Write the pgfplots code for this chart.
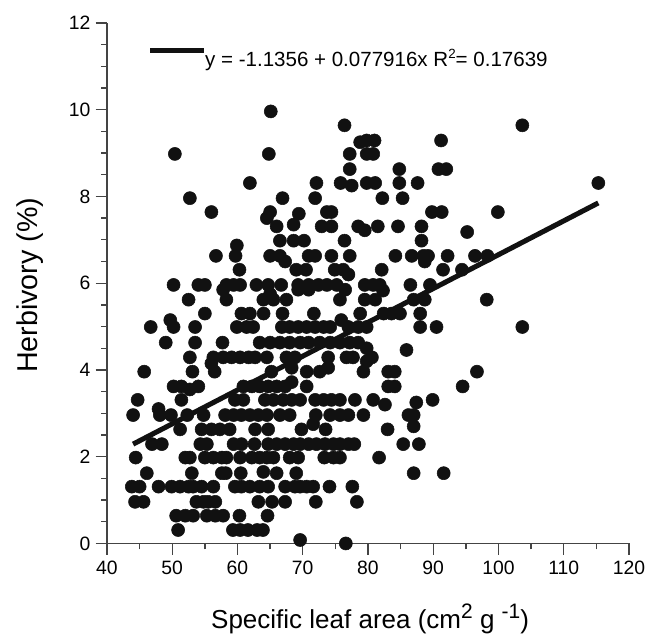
\documentclass[border=0pt]{standalone}
\usepackage{pgfplots}
\pgfplotsset{compat=1.18}
\usepackage{fontspec}
\setmainfont{Liberation Sans}
\definecolor{pt}{HTML}{111111}
\definecolor{ax}{HTML}{444444}
\newcommand{\sups}[1]{\raisebox{8pt}{\fontsize{15.7}{17}\selectfont #1}}
\begin{document}
\begin{tikzpicture}
\path[use as bounding box] (0,0) rectangle (492.75pt,475.5pt);
\begin{axis}[
  at={(80.25pt,67.9pt)},anchor=south west,
  scale only axis,width=391.5pt,height=390.4pt,
  xmin=40,xmax=120,ymin=0,ymax=12,
  axis lines=left,axis line style={ax,line width=1pt,-},
  clip=false,
  xtick={40,50,...,120},ytick={0,2,...,12},
  minor x tick num=1,minor y tick num=3,
  tick align=outside,tick pos=left,
  major tick length=8.5pt,minor tick length=4.5pt,
  every tick/.style={ax,line width=1pt},
  tick label style={font=\fontsize{14.5}{17}\selectfont,black},
  /pgf/number format/assume math mode=true,
  xlabel={Specific leaf area (cm\sups{2} g \sups{-1})},
  ylabel={Herbivory (\%)},
  xlabel style={font=\fontsize{19.5}{22}\selectfont,at={(axis description cs:0.504,0)},anchor=base,yshift=-64pt},
  ylabel style={font=\fontsize{21.5}{24}\selectfont,at={(axis description cs:0,0.496)},anchor=center,yshift=58pt},
  xticklabel style={anchor=base,yshift=-15pt},
  yticklabel style={xshift=-0.5pt},
]
\addplot[only marks,mark=*,mark size=4.9pt,pt,mark options={draw=none,fill=pt}] coordinates {
(76.6,0)(69.6,0.08)
(50.9,0.31)(59.3,0.31)(60.4,0.31)(61.6,0.31)(63,0.31)(63.9,0.31)
(50.6,0.64)(52,0.64)(53.2,0.64)(55.3,0.64)(56.6,0.64)(57.8,0.64)(60.3,0.64)(64.6,0.64)
(44.3,0.96)(45.6,0.96)(53.7,0.96)(54.8,0.96)(55.5,0.96)(56.6,0.96)(63.2,0.96)(65.3,0.96)(67.3,0.96)(72,0.96)(78.3,0.96)
(43.8,1.31)(45,1.31)(47.9,1.31)(49.9,1.31)(51.2,1.31)(52.5,1.31)(53.2,1.31)(54.5,1.31)(56.3,1.31)(59.6,1.31)(60.6,1.31)(61.9,1.31)(63.4,1.31)(64.7,1.31)(67.3,1.31)(68.8,1.31)(69.6,1.31)(70.6,1.31)(71.6,1.31)(74.1,1.31)(77.6,1.31)
(46.1,1.62)(53,1.62)(57.6,1.62)(58.2,1.62)(60.5,1.62)(63.96,1.65)(66,1.62)(69,1.62)(87,1.62)(91.6,1.62)
(44.4,1.98)(52,1.98)(52.7,1.98)(55,1.98)(56.3,1.98)(57.6,1.98)(58.3,1.98)(60.4,1.98)(62.2,1.98)(63.4,1.98)(64.5,1.98)(65.5,1.98)(68,1.98)(69.3,1.98)(73.3,1.98)(74.7,1.98)(75.7,1.98)(81.7,1.98)
(46.9,2.29)(48.4,2.29)(54.3,2.29)(55.3,2.29)(59.4,2.29)(60.6,2.29)(62.6,2.29)(64.7,2.29)(66,2.29)(67.3,2.29)(68.6,2.29)(69.6,2.29)(70.9,2.29)(72.1,2.29)(73.4,2.29)(74.7,2.29)(75.7,2.29)(77,2.29)(77.9,2.29)(85.4,2.29)(87.8,2.29)
(51.2,2.63)(54.5,2.63)(56,2.63)(57.3,2.63)(58.8,2.63)(62.7,2.63)(64.7,2.63)(69.8,2.63)(71.6,2.75)(73.5,2.63)(83,2.63)(87,2.7)
(44,2.96)(48.1,2.96)(47.9,3.1)(49.8,2.96)(52.3,2.96)(54.8,2.96)(58.1,2.96)(59.4,2.96)(60.6,2.96)(61.9,2.96)(63.2,2.96)(64.5,2.96)(66.5,2.96)(68,2.96)(72,2.96)(74.2,2.96)(75.7,2.96)(77,2.96)(79.3,2.96)(86.2,2.96)(87,2.96)
(44.7,3.31)(51.4,3.31)(59.6,3.31)(60.9,3.31)(64.2,3.31)(65.5,3.31)(67,3.31)(68.3,3.31)(69.6,3.31)(71.9,3.31)(73.2,3.31)(74.4,3.31)(75.7,3.31)(78,3.31)(80.8,3.31)(82.6,3.2)(87.4,3.25)(89.9,3.31)
(50.2,3.62)(51.4,3.62)(52.7,3.55)(54,3.62)(60.9,3.62)(62.2,3.62)(63.4,3.62)(64.7,3.62)(66,3.62)(67.3,3.62)(68.3,3.72)(70.6,3.62)(83.1,3.62)(84.1,3.62)(94.5,3.62)
(45.7,3.96)(53.1,3.96)(56.5,3.96)(65.2,3.96)(68.3,4.05)(70.6,3.96)(72.6,3.96)(73.9,4.05)(79.3,3.96)(83.1,3.96)(84.1,3.96)(96.7,3.96)
(52.7,4.29)(56.3,4.29)(57.8,4.29)(59.1,4.29)(60.4,4.29)(61.7,4.29)(62.7,4.29)(64.5,4.29)(67.5,4.29)(68.8,4.29)(73.9,4.29)(76.7,4.29)(77.7,4.29)(79.8,4.2)(80.6,4.29)(56,4.15)
(49,4.63)(53.5,4.63)(57.7,4.63)(63.4,4.63)(65,4.63)(66.5,4.63)(68,4.63)(69.6,4.63)(70.9,4.63)(72.6,4.63)(74.2,4.63)(75.7,4.63)(77.2,4.63)(78.5,4.63)(79.8,4.5)(85.9,4.46)
(46.7,4.99)(50.2,4.99)(53.5,4.99)(59.9,4.99)(61.4,4.99)(62.4,4.99)(66.8,4.99)(68,4.99)(69.3,4.99)(70.6,4.99)(71.9,4.99)(73.2,4.99)(74.2,4.99)(77,4.99)(78.5,4.99)(79.8,4.99)(88,4.99)(90.5,4.99)(103.65,4.99)
(49.7,5.15)(75.9,5.15)
(55,5.3)(60.6,5.3)(61.9,5.3)(64,5.3)(66.9,5.3)(71.7,5.3)(78.8,5.3)(82.4,5.3)(83.6,5.3)(84.9,5.3)(88,5.3)
(52.5,5.62)(58.3,5.62)(63.96,5.62)(65.5,5.62)(67.5,5.62)(75.7,5.62)(79.5,5.62)(81.1,5.62)(87,5.62)(88.7,5.62)(98.2,5.62)(65,5.75)
(50.2,5.96)(54,5.96)(55,5.96)(58.3,5.96)(59.4,5.96)(60.4,5.96)(62.9,5.96)(64.7,5.96)(66.7,5.96)(69.3,5.96)(70.9,5.96)(72.4,5.96)(73.7,5.96)(75.2,5.96)(79.5,5.96)(80.8,5.96)(81.8,5.96)(86.5,5.96)(89.5,5.96)
(57.8,5.85)(69.3,5.85)(70.9,5.85)(76.5,5.85)(82.3,5.83)
(60.3,6.31)(69,6.31)(70.5,6.31)(74.9,6.31)(76.2,6.31)(77,6.2)(82.1,6.31)(91.5,6.31)(94.4,6.31)
(56.7,6.63)(59.7,6.63)(65,6.63)(66.5,6.63)(67.3,6.5)(70.9,6.63)(71.9,6.63)(74.4,6.63)(77.2,6.63)(84.2,6.63)(86.7,6.63)(88.5,6.63)(89.2,6.63)(88.7,6.5)(92.2,6.63)(96.4,6.63)(98.3,6.63)
(59.9,6.87)(66.5,6.98)(68.6,6.98)(70.2,6.98)(76.4,6.98)(88.2,6.98)
(66,7.31)(72.9,7.31)(74.4,7.31)(78.5,7.31)(79.5,7.22)(81.5,7.31)(84.6,7.31)(88.2,7.31)(95.2,7.18)(68.6,7.35)
(56,7.64)(65,7.64)(64.5,7.5)(69.4,7.6)(73.7,7.64)(74.4,7.64)(89.8,7.64)(91.3,7.64)(99.9,7.64)
(52.7,7.96)(66.9,7.96)(71.9,7.96)(82.2,7.96)(85.3,7.96)
(61.9,8.31)(72.1,8.31)(75.8,8.31)(77.5,8.25)(79.8,8.31)(81.1,8.31)(84.8,8.31)(87.6,8.31)(115.3,8.31)
(77.2,8.63)(84.8,8.63)(90.8,8.63)(92,8.63)
(50.4,8.98)(64.8,8.98)(77.2,8.98)(79.8,8.98)(80.8,8.98)
(78.8,9.25)(79.8,9.29)(81,9.29)(91.2,9.29)
(76.4,9.64)(103.65,9.64)
(65.1,9.96)
};
\addplot[pt,line width=3.8pt] coordinates {(44,2.29)(115.3,7.85)};
\addplot[pt,line width=4pt] coordinates {(46.6,11.36)(54.87,11.36)};
\node[anchor=west,inner sep=0pt,font=\fontsize{15.4}{17}\selectfont] at (axis cs:55,11.15) {y = -1.1356 + 0.077916x R\raisebox{0.4em}{\fontsize{10}{11}\selectfont 2}= 0.17639};
\end{axis}
\end{tikzpicture}
\end{document}
